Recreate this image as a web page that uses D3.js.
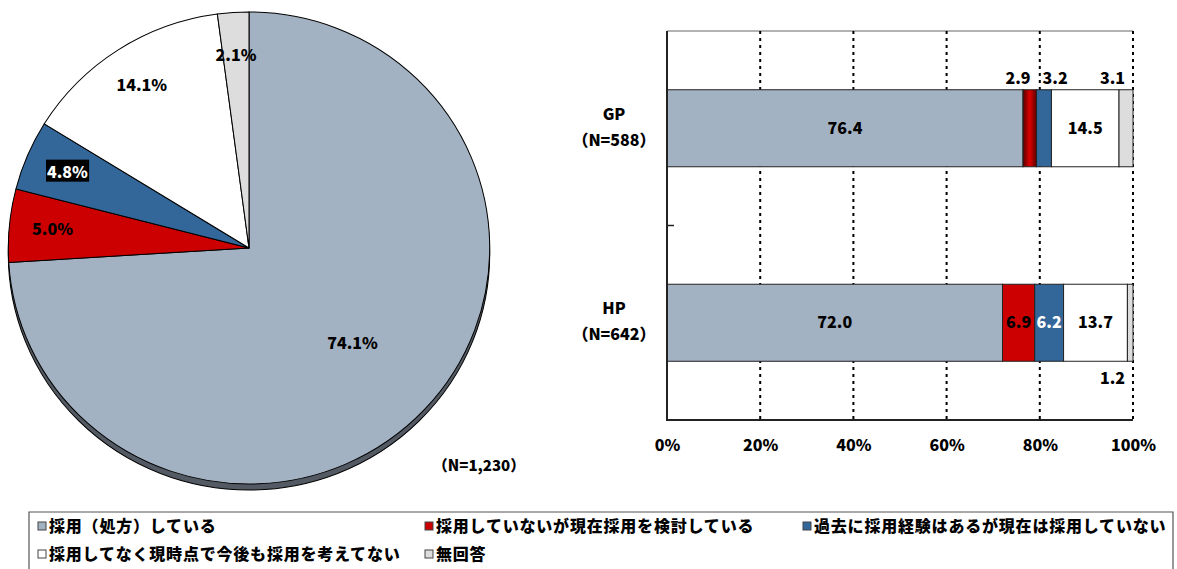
<!DOCTYPE html>
<html>
  <head>
    <meta charset="UTF-8" />
    <title>採用状況</title>
    <script src="https://cdnjs.cloudflare.com/ajax/libs/d3/7.8.5/d3.min.js"></script>
    <style>
      body {
        margin: 0;
        padding: 0;
        background: #fff;
      }
      svg text {
        font-family: "Noto Sans CJK JP", "Noto Sans", sans-serif;
        font-weight: 900;
        fill: #000;
      }
    </style>
  </head>
  <body>
    <svg id="chart" width="1177" height="569"></svg>

    <script>
      // categories (legend order = stacking order)
      const categories = [
        "採用（処方）している",
        "採用していないが現在採用を検討している",
        "過去に採用経験はあるが現在は採用していない",
        "採用してなく現時点で今後も採用を考えてない",
        "無回答"
      ];
      const colors = ["#a3b2c2", "#cc0000", "#336699", "#ffffff", "#dddddd"];

      // pie: all respondents
      const pieValues = [74.1, 5.0, 4.8, 14.1, 2.1];
      const pieNote = "（N=1,230）";

      // bar: by group
      const groups = ["GP", "HP"];
      const groupN = ["（N=588）", "（N=642）"];
      const gpValues = [76.4, 2.9, 3.2, 14.5, 3.1];
      const hpValues = [72.0, 6.9, 6.2, 13.7, 1.2];
      const xTicks = [0, 20, 40, 60, 80, 100];

      const svg = d3.select("#chart");

      // gradient used for the GP "検討" segment
      const defs = svg.append("defs");
      const grad = defs.append("linearGradient").attr("id", "redGrad")
        .attr("x1", "0%").attr("x2", "100%").attr("y1", "0%").attr("y2", "0%");
      grad.append("stop").attr("offset", "0%").attr("stop-color", "#5a0000");
      grad.append("stop").attr("offset", "50%").attr("stop-color", "#dd0000");
      grad.append("stop").attr("offset", "100%").attr("stop-color", "#5a0000");

      // ---------- pie ----------
      const cx = 249, cy = 248, r = 236;
      const pieG = svg.append("g").attr("transform", `translate(${cx},${cy})`);
      const shapeG = pieG.append("g").attr("transform", "scale(1.02,1)");

      // 3D side of the pie
      shapeG.append("ellipse")
        .attr("cx", 0).attr("cy", 6)
        .attr("rx", r).attr("ry", r)
        .attr("fill", "#535a63")
        .attr("stroke", "#000").attr("stroke-width", 1);

      const pie = d3.pie().sort(null).value(d => d);
      const arcs = pie(pieValues);
      const arc = d3.arc().innerRadius(0).outerRadius(r);

      shapeG.selectAll("path.slice")
        .data(arcs)
        .enter().append("path")
        .attr("class", "slice")
        .attr("d", arc)
        .attr("fill", (d, i) => colors[i])
        .attr("stroke", "#000")
        .attr("stroke-width", 1);

      const labelArcBig = d3.arc().innerRadius(r * 0.59).outerRadius(r * 0.59);
      const labelArcSmall = d3.arc().innerRadius(r * 0.82).outerRadius(r * 0.82);

      const pieLabels = pieG.selectAll("g.plabel")
        .data(arcs)
        .enter().append("g")
        .attr("class", "plabel")
        .attr("transform", d => {
          const c = (d.data > 50 ? labelArcBig : labelArcSmall).centroid(d);
          return `translate(${c[0] * 1.02},${c[1]})`;
        });

      pieLabels.each(function(d, i) {
        const g = d3.select(this);
        const t = g.append("text")
          .attr("text-anchor", "middle")
          .attr("dy", "0.35em")
          .style("font-size", "16px")
          .text(d.data.toFixed(1) + "%");
        if (i === 2) {
          const bb = t.node().getBBox();
          g.insert("rect", "text")
            .attr("x", bb.x - 1).attr("y", bb.y + 1)
            .attr("width", bb.width + 2).attr("height", bb.height - 2)
            .attr("fill", "#000");
          t.style("fill", "#fff");
        }
      });

      svg.append("text")
        .attr("x", 479).attr("y", 466)
        .attr("text-anchor", "middle")
        .attr("dy", "0.35em")
        .style("font-size", "15px")
        .text(pieNote);

      // ---------- stacked bar ----------
      const plot = { left: 667, right: 1133, top: 31, bottom: 420 };
      const x = d3.scaleLinear().domain([0, 100]).range([plot.left, plot.right]);
      const y = d3.scaleBand().domain(groups)
        .range([plot.top, plot.bottom])
        .paddingInner(0.604).paddingOuter(0.302);

      // top border
      svg.append("line")
        .attr("x1", plot.left).attr("x2", plot.right)
        .attr("y1", plot.top).attr("y2", plot.top)
        .attr("stroke", "#666").attr("stroke-width", 1);

      // dotted gridlines
      svg.selectAll("line.grid")
        .data(xTicks.filter(t => t > 0))
        .enter().append("line")
        .attr("class", "grid")
        .attr("x1", d => x(d)).attr("x2", d => x(d))
        .attr("y1", plot.top).attr("y2", plot.bottom)
        .attr("stroke", "#000").attr("stroke-width", 2)
        .attr("stroke-dasharray", "3,4");

      const barData = [gpValues, hpValues].map((vals, gi) => {
        let acc = 0;
        return vals.map((v, i) => {
          const s = { group: groups[gi], gi: gi, i: i, v: v, x0: acc, x1: acc + v, n: vals.length };
          acc += v;
          return s;
        });
      });

      const bars = svg.append("g");
      barData.forEach(segs => {
        bars.selectAll(null)
          .data(segs)
          .enter().append("rect")
          .attr("x", d => x(d.x0))
          .attr("y", d => y(d.group))
          .attr("width", d => Math.min(x(d.x1), plot.right) - x(d.x0))
          .attr("height", y.bandwidth())
          .attr("fill", d => (d.gi === 0 && d.i === 1) ? "url(#redGrad)" : colors[d.i])
          .attr("stroke", "#222")
          .attr("stroke-width", 1);
      });

      // bar value labels
      barData.forEach(segs => {
        segs.forEach((d, k) => {
          const inside = d.v >= 4;
          const xs = x(d.x0), xe = Math.min(x(d.x1), plot.right);
          let lx, anchor, ly;
          if (inside) {
            lx = (xs + xe) / 2; anchor = "middle";
            ly = y(d.group) + y.bandwidth() / 2;
          } else {
            const next = segs[k + 1];
            if (k === segs.length - 1) { lx = xe - 8; anchor = "end"; }
            else if (next && next.v < 4) { lx = xe - 6; anchor = "end"; }
            else { lx = xs + 6; anchor = "start"; }
            ly = d.gi === 0 ? y(d.group) - 11 : y(d.group) + y.bandwidth() + 17;
          }
          svg.append("text")
            .attr("x", lx).attr("y", ly)
            .attr("text-anchor", anchor)
            .attr("dy", "0.35em")
            .style("font-size", "16px")
            .style("fill", (inside && d.i === 2) ? "#fff" : "#000")
            .text(d.v.toFixed(1));
        });
      });

      // left axis + category separator tick
      svg.append("line")
        .attr("x1", plot.left).attr("x2", plot.left)
        .attr("y1", plot.top).attr("y2", plot.bottom + 1)
        .attr("stroke", "#222").attr("stroke-width", 2);
      svg.append("line")
        .attr("x1", plot.left).attr("x2", plot.left + 7)
        .attr("y1", (plot.top + plot.bottom) / 2).attr("y2", (plot.top + plot.bottom) / 2)
        .attr("stroke", "#222").attr("stroke-width", 1.5);
      // bottom axis line
      svg.append("line")
        .attr("x1", plot.left).attr("x2", plot.right)
        .attr("y1", plot.bottom).attr("y2", plot.bottom)
        .attr("stroke", "#222").attr("stroke-width", 2);

      const xAxis = svg.append("g")
        .attr("transform", `translate(0,${plot.bottom})`)
        .call(d3.axisBottom(x).tickValues(xTicks).tickSize(0).tickPadding(20).tickFormat(d => d + "%"));
      xAxis.select(".domain").remove();
      xAxis.selectAll("text")
        .style("font-size", "16px")
        .style("font-family", "'Noto Sans CJK JP', sans-serif")
        .style("font-weight", "900")
        .attr("fill", "#000");

      // category labels
      groups.forEach((gname, gi) => {
        const c = y(gname) + y.bandwidth() / 2;
        svg.append("text")
          .attr("x", 614).attr("y", c - 14)
          .attr("text-anchor", "middle").attr("dy", "0.35em")
          .style("font-size", "16px")
          .text(gname);
        svg.append("text")
          .attr("x", 614).attr("y", c + 12)
          .attr("text-anchor", "middle").attr("dy", "0.35em")
          .style("font-size", "16px")
          .text(groupN[gi]);
      });

      // ---------- legend ----------
      svg.append("path")
        .attr("d", "M29,575 V512 H1173 V575")
        .attr("fill", "none")
        .attr("stroke", "#555").attr("stroke-width", 1.2);

      const legendPos = [
        [38, 526], [425, 526], [803, 526],
        [38, 554], [425, 554]
      ];
      const legend = svg.selectAll("g.leg")
        .data(categories)
        .enter().append("g")
        .attr("class", "leg")
        .attr("transform", (d, i) => `translate(${legendPos[i][0]},${legendPos[i][1]})`);
      legend.append("rect")
        .attr("x", 0).attr("y", -4)
        .attr("width", 8).attr("height", 8)
        .attr("fill", (d, i) => colors[i])
        .attr("stroke", "#444").attr("stroke-width", 1);
      legend.append("text")
        .attr("x", 11).attr("dy", "0.35em")
        .style("font-size", "16px")
        .style("letter-spacing", "0.8px")
        .text(d => d);
    </script>
  </body>
</html>
